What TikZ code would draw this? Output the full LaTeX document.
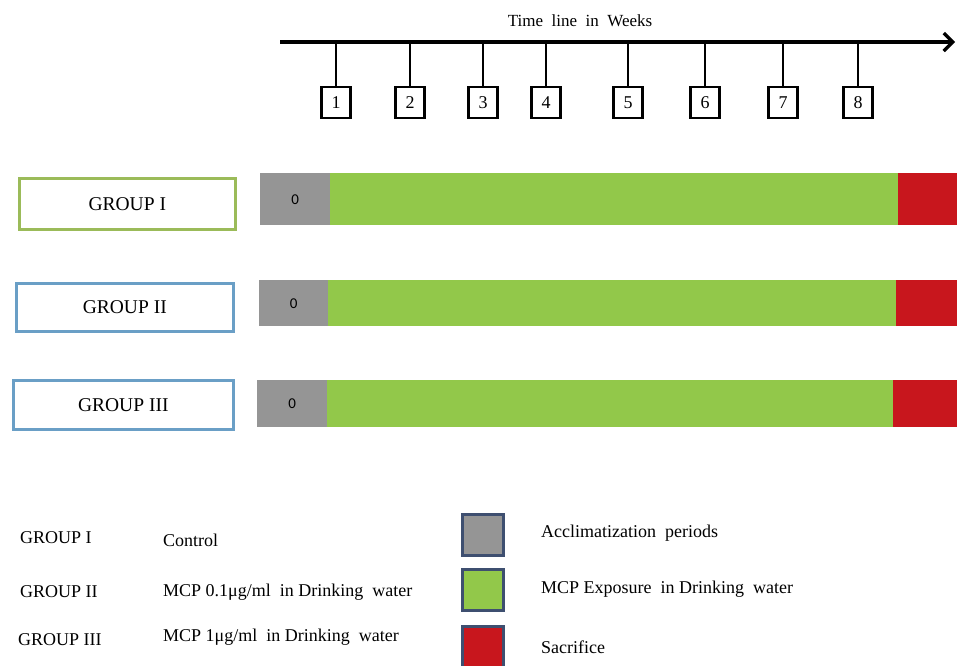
\documentclass[tikz,border=0pt]{standalone}
\usepackage{fontspec}
\setmainfont{Liberation Serif}
\newfontfamily\barfont{Carlito}
\usetikzlibrary{arrows.meta}
\definecolor{bargray}{HTML}{959595}
\definecolor{bargreen}{HTML}{92C84A}
\definecolor{barred}{HTML}{C8161D}
\definecolor{gOneBorder}{HTML}{9BBB59}
\definecolor{gTwoBorder}{HTML}{6A9FC6}
\definecolor{legBorder}{HTML}{3E4F70}
\tikzset{
  weekbox/.style={draw=black, line width=2.2pt, minimum width=29pt, minimum height=31pt, inner sep=0pt, font=\fontsize{18}{18}\selectfont},
  tickline/.style={line width=2.8pt},
  groupbox/.style={draw, line width=2.6pt, anchor=north west, inner sep=0pt, font=\fontsize{19.5}{19.5}\selectfont},
  barseg/.style={anchor=north west, inner sep=0pt, draw=none},
  legsq/.style={draw=legBorder, line width=2.6pt, minimum width=41pt, minimum height=41pt, inner sep=0pt},
  legtext/.style={anchor=west, inner sep=0pt, font=\fontsize{18}{18}\selectfont},
}
\begin{document}
\begin{tikzpicture}[x=1pt,y=-1pt]
\useasboundingbox (0,0) rectangle (957,665);
% timeline
\coordinate (tlstart) at (280,42);
\coordinate (tlend) at (955,42);
\draw[line width=4pt, -{Straight Barb[length=9pt,width=18pt,line width=3.2pt]}] (tlstart) -- (tlend);
\node[font=\fontsize{17}{17}\selectfont] (tltitle) at (580,21) {Time\ \ line\ \ in\ \ Weeks};
\foreach \i/\x in {1/336,2/410,3/483,4/546,5/628,6/705,7/783,8/858}{
  \coordinate (t\i) at (\x,42);
  \node[weekbox, anchor=north] (wk\i) at (\x,86) {\i};
  \draw[tickline] (t\i) -- (wk\i.north);
}
% group boxes
\node[groupbox, draw=gOneBorder, minimum width=216pt, minimum height=51pt] (grp1) at (18,177) {GROUP I};
\node[groupbox, draw=gTwoBorder, minimum width=217pt, minimum height=48pt] (grp2) at (15,282) {GROUP II};
\node[groupbox, draw=gTwoBorder, minimum width=220pt, minimum height=49pt] (grp3) at (12,379) {GROUP III};
% bars
\node[barseg, fill=bargray, minimum width=70pt, minimum height=52pt, font=\barfont\fontsize{15}{15}\selectfont] (b1a) at (260,173) {0};
\node[barseg, fill=bargreen, minimum width=568pt, minimum height=52pt] (b1b) at (330,173) {};
\node[barseg, fill=barred, minimum width=59pt, minimum height=52pt] (b1c) at (898,173) {};
\node[barseg, fill=bargray, minimum width=69pt, minimum height=46pt, font=\barfont\fontsize{15}{15}\selectfont] (b2a) at (259,280) {0};
\node[barseg, fill=bargreen, minimum width=568pt, minimum height=46pt] (b2b) at (328,280) {};
\node[barseg, fill=barred, minimum width=61pt, minimum height=46pt] (b2c) at (896,280) {};
\node[barseg, fill=bargray, minimum width=70pt, minimum height=47pt, font=\barfont\fontsize{15}{15}\selectfont] (b3a) at (257,380) {0};
\node[barseg, fill=bargreen, minimum width=566pt, minimum height=47pt] (b3b) at (327,380) {};
\node[barseg, fill=barred, minimum width=64pt, minimum height=47pt] (b3c) at (893,380) {};
% legend left
\node[legtext] (lg1) at (20,538) {GROUP I};
\node[legtext] (lg2) at (20,592) {GROUP II};
\node[legtext] (lg3) at (18,640) {GROUP III};
\node[legtext] (ld1) at (163,540) {Control};
\node[legtext] (ld2) at (163,592) {MCP 0.1μg/ml\ \ in Drinking\ \ water};
\node[legtext] (ld3) at (163,637) {MCP 1μg/ml\ \ in Drinking\ \ water};
% legend right
\node[legsq, fill=bargray] (sq1) at (483,535) {};
\node[legsq, fill=bargreen] (sq2) at (483,590) {};
\node[legsq, fill=barred] (sq3) at (483,647) {};
\node[legtext] (lt1) at (541,533) {Acclimatization\ \ periods};
\node[legtext] (lt2) at (541,589) {MCP Exposure\ \ in Drinking\ \ water};
\node[legtext] (lt3) at (541,647) {Sacrifice};
\end{tikzpicture}
\end{document}
